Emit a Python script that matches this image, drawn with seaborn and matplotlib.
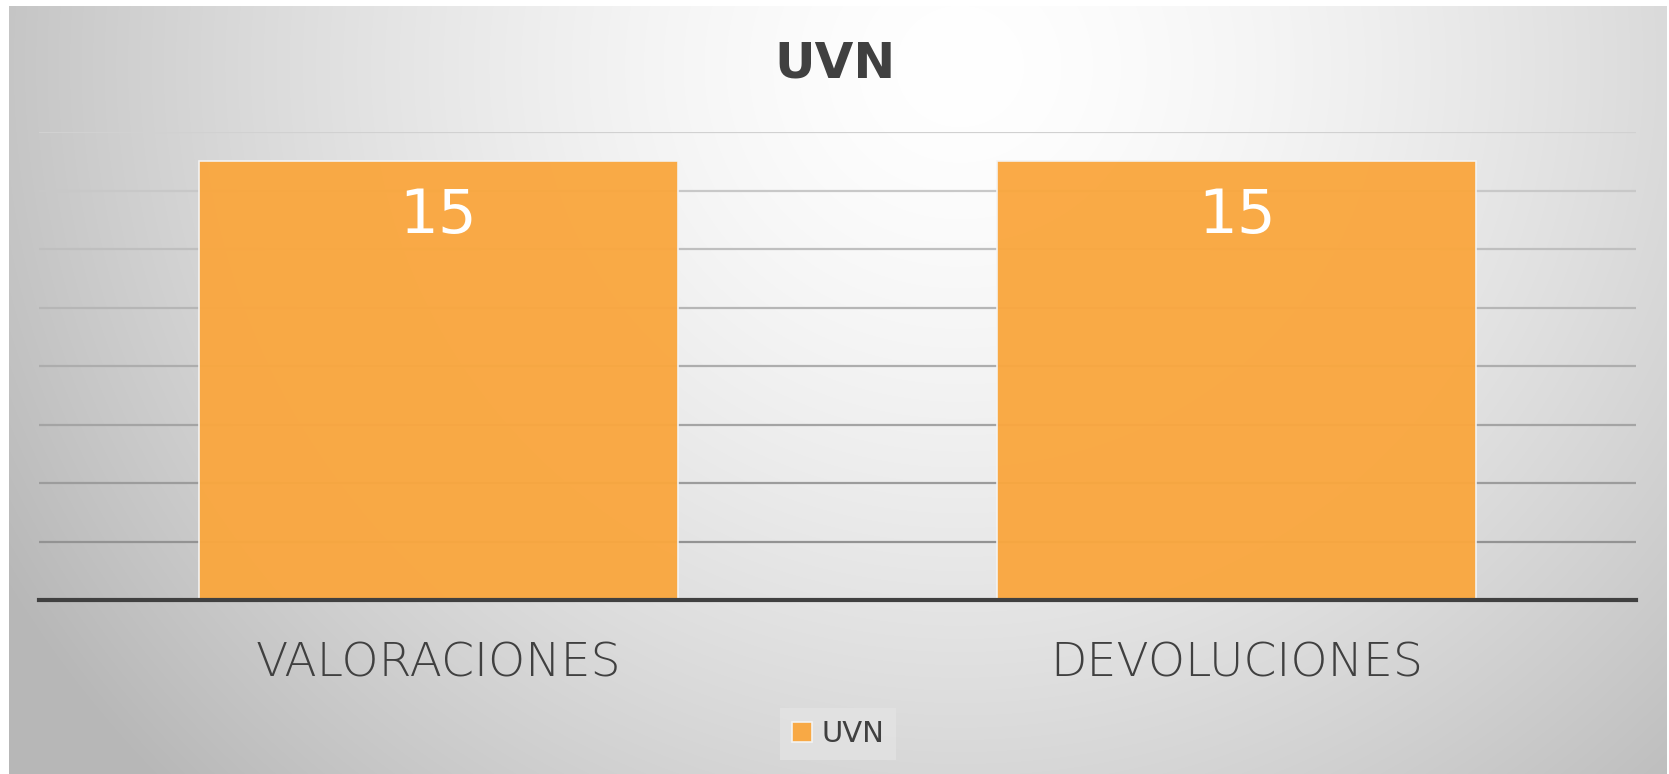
import numpy as np
import pandas as pd
import matplotlib
matplotlib.use("Agg")
import matplotlib.pyplot as plt
import seaborn as sns

# data
categories = ["VALORACIONES", "DEVOLUCIONES"]
values = [15, 15]
series_name = "UVN"
chart_title = "UVN"

sns.set_theme(style="white")
plt.rcParams["font.family"] = ["DejaVu Sans"]

W, H = 1669, 774
fig = plt.figure(figsize=(W / 100, H / 100), dpi=100)
fig.patch.set_facecolor("white")

# gradient panel behind the chart
bg = fig.add_axes([9 / W, 0, (1666 - 9) / W, (774 - 6) / H], zorder=0)
yy, xx = np.mgrid[0:768, 0:1657]
r = np.sqrt(((xx - 950) / 1000.0) ** 2 + ((yy - 60) / 950.0) ** 2)
shade = (255 - 62 * np.clip(r, 0, 1.1) ** 1.5) / 255.0
rgb = np.dstack([shade, shade, shade])
bg.imshow(rgb, aspect="auto", interpolation="bilinear")
bg.set_axis_off()

ax = fig.add_axes([39 / W, (774 - 600) / H, 1597 / W, (600 - 132) / H], zorder=1)
ax.set_facecolor("none")

df = pd.DataFrame({"cat": categories, "val": values, "serie": series_name})
sns.barplot(data=df, x="cat", y="val", hue="serie", palette=["#FAA73F"], saturation=1,
            width=0.6, edgecolor="#f4f4f4", linewidth=1.2, alpha=0.96, ax=ax, zorder=3)

ax.set_xlim(-0.5, 1.5)
ax.set_ylim(0, 16)
ax.set_yticks(np.arange(0, 17, 2))
ax.set_yticklabels([])
ax.tick_params(axis="y", length=0)
ax.tick_params(axis="x", length=0, pad=30, labelsize=34, labelcolor="#404040")
for lab in ax.get_xticklabels():
    lab.set_fontweight("light")
ax.set_xlabel("")
ax.set_ylabel("")

ax.grid(axis="y", zorder=1)
gl = ax.yaxis.get_gridlines()
for i, line in enumerate(gl):
    t = i / max(len(gl) - 1, 1)
    c = 0.54 + 0.28 * t
    line.set_color((c, c, c))
    line.set_linewidth(1.6)
    line.set_zorder(1)

for s in ["left", "right", "top"]:
    ax.spines[s].set_visible(False)
ax.spines["bottom"].set_color("#404040")
ax.spines["bottom"].set_linewidth(3)
ax.spines["bottom"].set_zorder(4)

for i, v in enumerate(values):
    ax.annotate(str(v), xy=(i, v), xytext=(0, -40), textcoords="offset points",
                ha="center", va="center", color="white", fontsize=44, zorder=5)

fig.text(0.5, 1 - 64 / H, chart_title, ha="center", va="center",
         fontsize=36, fontweight="bold", color="#404040")

ax.legend_.remove()
handles, labels = ax.get_legend_handles_labels()
leg = fig.legend(handles, labels, loc="center", bbox_to_anchor=(838 / W, 1 - 734 / H),
                 frameon=True, fontsize=21, handlelength=0.7, handleheight=0.7,
                 handletextpad=0.3, borderpad=0.4, fancybox=False)
leg.get_frame().set_facecolor("#e3e3e3")
leg.get_frame().set_edgecolor("none")
for t in leg.get_texts():
    t.set_color("#404040")

fig.savefig("out.png", dpi=100)
